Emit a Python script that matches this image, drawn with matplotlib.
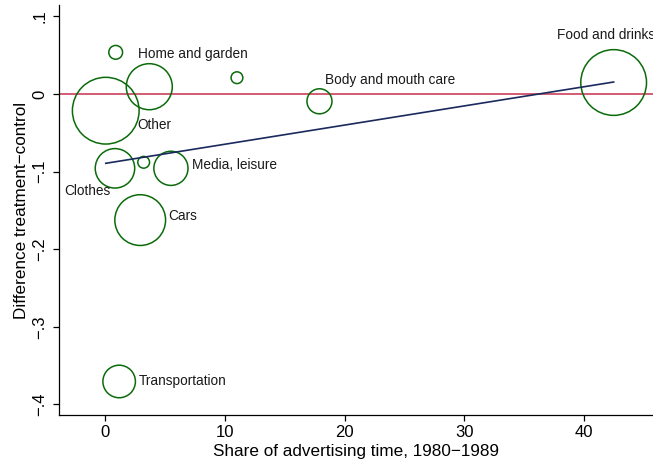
import numpy as np
import matplotlib
matplotlib.use('Agg')
import matplotlib.pyplot as plt

plt.rcParams['font.family'] = ['Liberation Sans', 'DejaVu Sans']

# share of advertising time (%) and treatment-control difference by product category
share = [0.03, 0.86, 3.67, 11.0, 0.80, 3.20, 5.48, 2.91, 1.15, 17.9, 42.5]
diff = [-0.0215, 0.0537, 0.0094, 0.021, -0.0958, -0.088, -0.0958, -0.1625, -0.3705, -0.0094, 0.0148]
weight = [103, 4.4, 49, 3.2, 36, 3.2, 27, 59.6, 24.5, 14.5, 100]
labels = ['Other', 'Home and garden', '', '', 'Clothes', '', 'Media, leisure',
          'Cars', 'Transportation', 'Body and mouth care', 'Food and drinks']

# weighted linear fit
fit_intercept = -0.0894
fit_slope = 0.002467

xticks = [0, 10, 20, 30, 40]
yticks = [-0.4, -0.3, -0.2, -0.1, 0, 0.1]
yticklabels = ['\u2212.4', '\u2212.3', '\u2212.2', '\u2212.1', '0', '.1']

# label placement around each marker (points), alignment
label_offset = {
    'Other': (23, -10, 'left'),
    'Home and garden': (16, -1, 'left'),
    'Clothes': (-3.5, -16, 'right'),
    'Media, leisure': (15, 2.4, 'left'),
    'Cars': (20.5, 2.7, 'left'),
    'Transportation': (13.8, 0.6, 'left'),
    'Body and mouth care': (4.3, 15.1, 'left'),
    'Food and drinks': (-40.7, 34.2, 'left'),
}

fig = plt.figure(figsize=(6.53, 4.65), dpi=100)
ax = fig.add_axes([59 / 653, 50 / 465, 594 / 653, 410 / 465])

ax.axhline(0, color='#c83050', lw=1.1, zorder=1)
ax.scatter(share, diff, s=np.array(weight) * 22.4, facecolors='none',
           edgecolors='#0b6b0b', linewidths=1.1, zorder=2)

xfit = np.array([min(share), max(share)])
ax.plot(xfit, fit_intercept + fit_slope * xfit, color='#1a2a5c', lw=1.2, zorder=3)

for x, y, lab in zip(share, diff, labels):
    if not lab:
        continue
    dx, dy, ha = label_offset[lab]
    ax.annotate(lab, (x, y), xytext=(dx, dy), textcoords='offset points',
                ha=ha, va='center', fontsize=9.8, color='#1a1a1a')

ax.set_xlim(-3.88, 45.79)
ax.set_ylim(-0.4137, 0.1147)
ax.set_xticks(xticks)
ax.set_yticks(yticks)
ax.set_yticklabels(yticklabels, rotation=90, va='center')

for side in ['top', 'right']:
    ax.spines[side].set_visible(False)
for side in ['left', 'bottom']:
    ax.spines[side].set_linewidth(0.9)
ax.tick_params(direction='out', length=4.3, width=0.9, labelsize=12, pad=3)
ax.tick_params(axis='y', pad=4)

ax.set_xlabel('Share of advertising time, 1980\u22121989', fontsize=12.3, labelpad=2.5)
ax.set_ylabel('Difference treatment\u2212control', fontsize=12.3, labelpad=2.5)

fig.savefig('out.png', dpi=100, facecolor='white')
